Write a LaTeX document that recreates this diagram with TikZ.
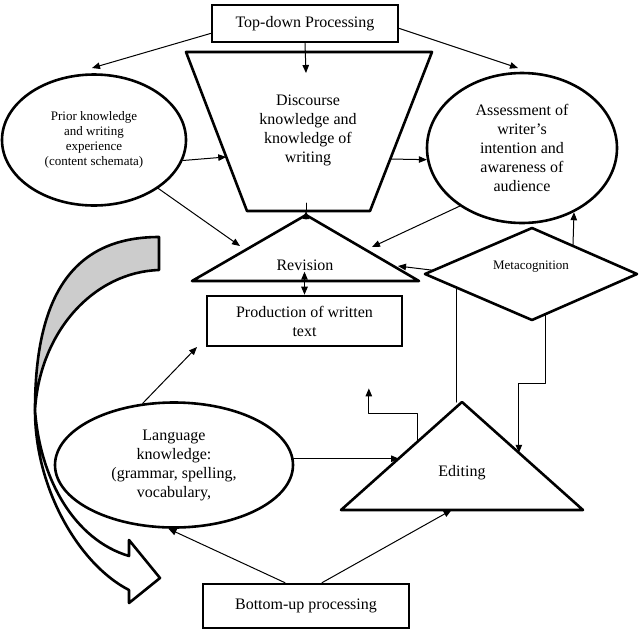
\documentclass[tikz,border=0pt]{standalone}
\usepackage{fontspec}
\setmainfont{Liberation Serif}
\usetikzlibrary{arrows.meta,shapes.geometric,calc}

\begin{document}
\begin{tikzpicture}[x=1pt,y=-1pt,line join=round,line cap=round,>={Triangle[length=8pt,width=6.5pt]},font=\fontsize{16}{19}\selectfont]
	\tikzset{box/.style={draw,rectangle,line width=2.6pt,line join=miter,inner sep=0pt,align=center}}
	\tikzset{oval/.style={draw,ellipse,line width=2.6pt,inner sep=0pt,align=center}}
	\tikzset{shape line/.style={line width=2.6pt}}
	\tikzset{link/.style={->,line width=1pt}}
	\tikzset{small text/.style={font=\fontsize{13}{15}\selectfont,align=center}}
	\useasboundingbox (0,0) rectangle (642,641);
	% boxes and ovals
	\node[box,minimum width=186pt,minimum height=37pt] (top) at (305,23.5) {Top-down Processing};
	\node[oval,small text,minimum width=184pt,minimum height=131pt] (prior) at (94,140) {Prior knowledge\\and writing\\experience\\(content schemata)};
	\node[oval,minimum width=190pt,minimum height=150pt] (assess) at (522,148) {Assessment of\\writer's\\intention and\\awareness of\\audience};
	\node[box,minimum width=195pt,minimum height=50pt] (prod) at (304.5,321) {Production of written\\text};
	\node[oval,minimum width=238pt,minimum height=125pt] (lang) at (174,465) {Language\\knowledge:\\(grammar, spelling,\\vocabulary,};
	\node[box,minimum width=206pt,minimum height=44pt] (bottom) at (306,606) {Bottom-up processing};
	% trapezoid
	\coordinate (trapTL) at (186,52);
	\coordinate (trapTR) at (432,52);
	\coordinate (trapBR) at (370,211);
	\coordinate (trapBL) at (247,211);
	\draw[shape line] (trapTL) -- (trapTR) -- (trapBR) -- (trapBL) -- cycle;
	\node[align=center] (discourse) at (308,130) {Discourse\\knowledge and\\knowledge of\\writing};
	% revision
	\coordinate (revTop) at (306,215);
	\coordinate (revL) at (192,281);
	\coordinate (revR) at (419,281);
	\draw[shape line] (revL) -- (revTop) -- (revR) -- cycle;
	\node (revision) at (305,265) {Revision};
	% metacognition
	\coordinate (metaL) at (425,274);
	\coordinate (metaT) at (532,228);
	\coordinate (metaR) at (637,274);
	\coordinate (metaB) at (532,320);
	\draw[shape line] (metaL) -- (metaT) -- (metaR) -- (metaB) -- cycle;
	\node[small text] (meta) at (531,267) {Metacognition};
	% editing
	\coordinate (editTop) at (462,402);
	\coordinate (editL) at (341,510);
	\coordinate (editR) at (583,510);
	\draw[shape line] (editL) -- (editTop) -- (editR) -- cycle;
	\node (editing) at (462,473) {Editing};
	% big curved arrow
	\draw[shape line,fill=black!20] (159,237) .. controls (70,237) and (35,300) .. (35,410)
		.. controls (40,330) and (95,272) .. (159,270) -- cycle;
	\draw[shape line,fill=white] (35,410) .. controls (35,490) and (80,565) .. (129,590)
		-- (129,603) -- (160,578) -- (129,540) -- (129,556)
		.. controls (75,540) and (40,480) .. (35,410) -- cycle;
	% free ends
	\coordinate (priorIn) at (92,68);
	\coordinate (trapIn) at (306,73);
	\coordinate (assessIn) at (518,68);
	\coordinate (revInL) at (240,246);
	\coordinate (revInR) at (372,247);
	\coordinate (revInM) at (398,266);
	\coordinate (prodIn) at (197,347);
	% connectors
	\draw[link] (top.186) -- (priorIn);
	\draw[link] (top.south) -- (trapIn);
	\draw[link] (top.-3) -- (assessIn);
	\draw[link] (prior.-13) -- ($(trapTL)!0.66!(trapBL)$);
	\draw[link] ($(trapTR)!0.673!(trapBR)$) -- (assess.187);
	\draw[link] (prior.-37) -- (revInL);
	\draw[link] (assess.223) -- (revInR);
	\draw[link] ($(revTop)+(0,4)$) -- ($(trapBL)!0.48!(trapBR)$);
	\draw[line width=1pt] ($(trapBL)!0.48!(trapBR)$) -- ++(0,-8);
	\draw[link,<->] (prod.north) -- ++(0,-23);
	\draw[link] ($(metaL)!0.08!(metaT)$) -- (revInM);
	\draw[link] ($(metaT)!0.39!(metaR)$) -- (assess.-51);
	\coordinate (metaDown) at ($(metaL)!0.29!(metaB)$);
	\draw[line width=1pt] (metaDown) -- (metaDown |- editTop);
	\draw[link] ($(metaB)!0.133!(metaR)$) -- ++(0,70) -| ($(editTop)!0.47!(editR)$);
	\draw[link] ($(editL)!0.635!(editTop)$) |- ++(-49,-28) -- ++(0,-25);
	\coordinate (editIn) at ($(editL)!0.48!(editTop)$);
	\draw[link] (lang.3) -- (lang.3 -| editIn);
	\draw[link] (lang.117) -- (prodIn);
	\draw[link] ($(bottom.north)+(-21,0)$) -- (lang.-95);
	\draw[link] ($(bottom.north)+(16,0)$) -- ($(editL)!0.457!(editR)$);
\end{tikzpicture}
\end{document}
